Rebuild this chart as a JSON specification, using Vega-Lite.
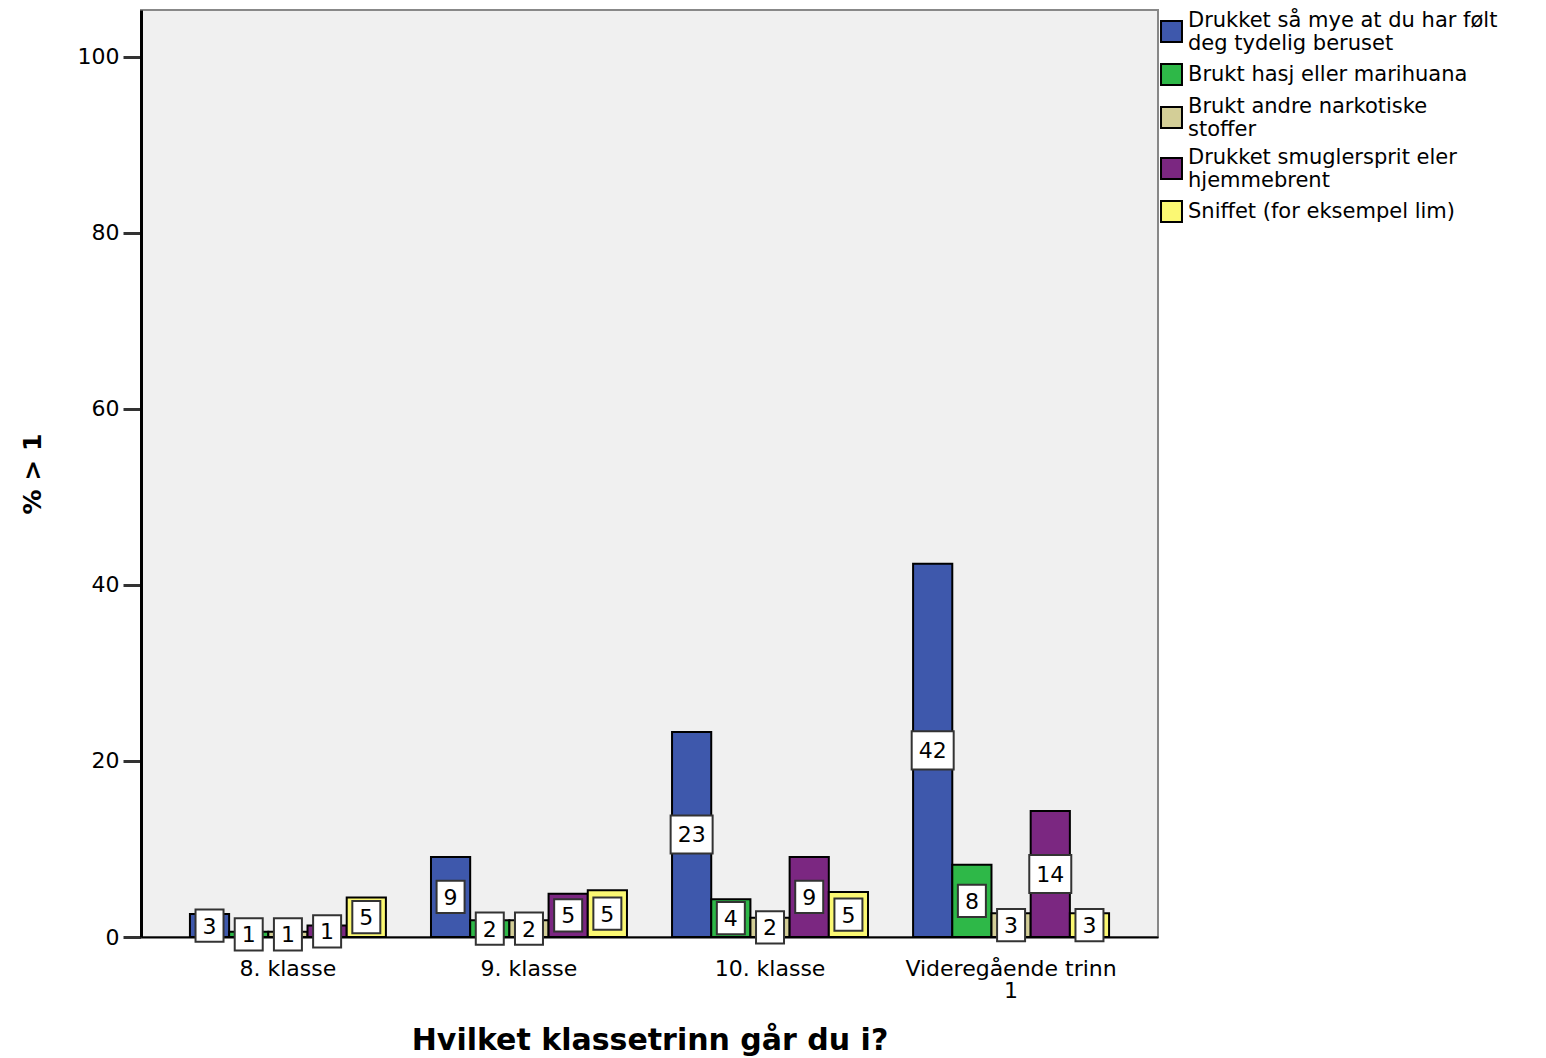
{
  "$schema": "https://vega.github.io/schema/vega-lite/v6.json",
  "width": 1017,
  "height": 927,
  "autosize": "none",
  "padding": {"left": 141, "top": 10, "right": 388, "bottom": 121},
  "background": "white",
  "config": {
    "font": "DejaVu Sans",
    "view": {"fill": "#f0f0f0", "stroke": "#888888", "strokeWidth": 2},
    "axis": {"grid": false, "domainColor": "black", "domainWidth": 2, "tickColor": "#333333", "tickWidth": 3, "labelColor": "black", "titleColor": "black"}
  },
  "data": {"values": [
    {"grade": "8. klasse", "item": "Drukket så mye at du har følt deg tydelig beruset", "value": 2.6, "label": "3"},
    {"grade": "8. klasse", "item": "Brukt hasj eller marihuana", "value": 0.6, "label": "1"},
    {"grade": "8. klasse", "item": "Brukt andre narkotiske stoffer", "value": 0.6, "label": "1"},
    {"grade": "8. klasse", "item": "Drukket smuglersprit eler hjemmebrent", "value": 1.3, "label": "1"},
    {"grade": "8. klasse", "item": "Sniffet (for eksempel lim)", "value": 4.5, "label": "5"},
    {"grade": "9. klasse", "item": "Drukket så mye at du har følt deg tydelig beruset", "value": 9.1, "label": "9"},
    {"grade": "9. klasse", "item": "Brukt hasj eller marihuana", "value": 1.9, "label": "2"},
    {"grade": "9. klasse", "item": "Brukt andre narkotiske stoffer", "value": 1.9, "label": "2"},
    {"grade": "9. klasse", "item": "Drukket smuglersprit eler hjemmebrent", "value": 4.9, "label": "5"},
    {"grade": "9. klasse", "item": "Sniffet (for eksempel lim)", "value": 5.3, "label": "5"},
    {"grade": "10. klasse", "item": "Drukket så mye at du har følt deg tydelig beruset", "value": 23.3, "label": "23"},
    {"grade": "10. klasse", "item": "Brukt hasj eller marihuana", "value": 4.3, "label": "4"},
    {"grade": "10. klasse", "item": "Brukt andre narkotiske stoffer", "value": 2.2, "label": "2"},
    {"grade": "10. klasse", "item": "Drukket smuglersprit eler hjemmebrent", "value": 9.1, "label": "9"},
    {"grade": "10. klasse", "item": "Sniffet (for eksempel lim)", "value": 5.1, "label": "5"},
    {"grade": "Videregående trinn 1", "item": "Drukket så mye at du har følt deg tydelig beruset", "value": 42.4, "label": "42"},
    {"grade": "Videregående trinn 1", "item": "Brukt hasj eller marihuana", "value": 8.2, "label": "8"},
    {"grade": "Videregående trinn 1", "item": "Brukt andre narkotiske stoffer", "value": 2.7, "label": "3"},
    {"grade": "Videregående trinn 1", "item": "Drukket smuglersprit eler hjemmebrent", "value": 14.3, "label": "14"},
    {"grade": "Videregående trinn 1", "item": "Sniffet (for eksempel lim)", "value": 2.7, "label": "3"}
  ]},
  "encoding": {
    "x": {
      "field": "grade", "type": "nominal", "sort": null,
      "scale": {"paddingInner": 0.187, "paddingOuter": 0.203},
      "axis": {
        "title": "Hvilket klassetrinn går du i?", "titleFontSize": 30, "titleFontWeight": "bold", "titlePadding": 24,
        "labelAngle": 0, "labelFontSize": 22, "labelPadding": 21, "ticks": false, "domainWidth": 2, "labelLimit": 400,
        "labelExpr": "datum.label == 'Videregående trinn 1' ? ['Videregående trinn', '1'] : datum.label",
        "labelLineHeight": 22
      }
    },
    "xOffset": {"field": "item", "type": "nominal", "sort": null, "scale": {"paddingInner": 0, "paddingOuter": 0}}
  },
  "layer": [
    {
      "mark": {"type": "bar", "stroke": "black", "strokeWidth": 2},
      "encoding": {
        "y": {
          "field": "value", "type": "quantitative",
          "scale": {"domain": [0, 105.3], "nice": false, "zero": true},
          "axis": {"title": "% > 1", "titleFontSize": 25, "titleFontWeight": "bold", "titlePadding": 32,
                   "values": [0, 20, 40, 60, 80, 100], "labelFontSize": 22, "tickSize": 18, "labelPadding": 4, "domainWidth": 3}
        },
        "color": {
          "field": "item", "type": "nominal", "sort": null,
          "scale": {"range": ["#3e58ac", "#2eb848", "#d3ce97", "#7b2781", "#fbf873"]},
          "legend": {
            "title": null, "orient": "none", "legendX": 1019, "legendY": 10, "padding": 0,
            "symbolType": "square", "symbolSize": 440, "symbolStrokeColor": "black", "symbolStrokeWidth": 2,
            "labelFontSize": 21, "labelLimit": 400, "labelLineHeight": 22, "labelOffset": 5, "rowPadding": 6,
            "labelExpr": "datum.label == 'Drukket så mye at du har følt deg tydelig beruset' ? ['Drukket så mye at du har følt', 'deg tydelig beruset'] : datum.label == 'Brukt andre narkotiske stoffer' ? ['Brukt andre narkotiske', 'stoffer'] : datum.label == 'Drukket smuglersprit eler hjemmebrent' ? ['Drukket smuglersprit eler', 'hjemmebrent'] : datum.label",
            "encode": {"labels": {"update": {"dy": {"signal": "indexof(['Drukket så mye at du har følt deg tydelig beruset', 'Brukt andre narkotiske stoffer', 'Drukket smuglersprit eler hjemmebrent'], datum.label) >= 0 ? -11 : 0"}}}}
          }
        }
      }
    },
    {
      "transform": [{"filter": "length(datum.label) == 1"}],
      "mark": {"type": "point", "filled": true, "fill": "white", "stroke": "#333333", "strokeWidth": 2, "opacity": 1,
               "shape": "M-1,-1.15H1V1.15H-1Z", "size": 784},
      "encoding": {
        "y": {"field": "value", "type": "quantitative", "scale": {"domain": [0, 210.6], "nice": false}, "axis": null}
      }
    },
    {
      "transform": [{"filter": "length(datum.label) == 2"}],
      "mark": {"type": "point", "filled": true, "fill": "white", "stroke": "#333333", "strokeWidth": 2, "opacity": 1,
               "shape": "M-1.5,-1.36H1.5V1.36H-1.5Z", "size": 784},
      "encoding": {
        "y": {"field": "value", "type": "quantitative", "scale": {"domain": [0, 210.6], "nice": false}, "axis": null}
      }
    },
    {
      "mark": {"type": "text", "fontSize": 22, "color": "black", "baseline": "middle", "align": "center", "dy": 1},
      "encoding": {
        "y": {"field": "value", "type": "quantitative", "scale": {"domain": [0, 210.6], "nice": false}, "axis": null},
        "text": {"field": "label"}
      }
    }
  ],
  "resolve": {"scale": {"y": "independent"}}
}
